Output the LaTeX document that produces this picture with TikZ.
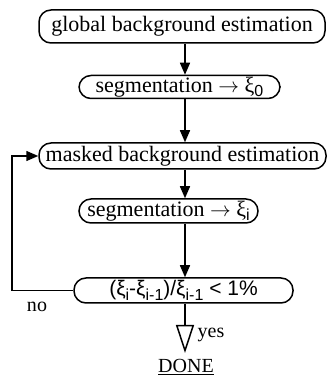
\documentclass[tikz,border=0pt]{standalone}
\usepackage{fontspec}
\setmainfont{Liberation Serif}
\newfontfamily\sansf{Liberation Sans}
\usetikzlibrary{arrows.meta}
\newcommand{\lowsub}[1]{\raisebox{-0.45ex}{\fontsize{16}{16}\selectfont #1}}
\newcommand{\sansub}[1]{\raisebox{-0.45ex}{\sansf\fontsize{16}{16}\selectfont #1}}
\tikzset{
  box/.style={draw, line width=1.5pt, rounded corners=12pt, inner sep=0pt, font=\fontsize{22}{24}\selectfont},
  flow/.style={line width=1.5pt, -{Triangle[length=12pt,width=10pt]}},
  lbl/.style={inner sep=0pt, font=\fontsize{20}{22}\selectfont}
}
\begin{document}
\begin{tikzpicture}[x=1pt,y=1pt]
\useasboundingbox (0,0) rectangle (327,385);
\coordinate (ax) at (185,0);
\coordinate (fb) at (12,0);
\node[box, minimum width=286pt, minimum height=33pt] (b1) at (182,358.5) {global background estimation};
\node[box, minimum width=201pt, minimum height=23pt] (b2) at (179.5,298) {segmentation $\rightarrow$ ξ\sansub{0}};
\node[box, minimum width=287pt, minimum height=26pt] (b3) at (182.5,229) {masked background estimation};
\node[box, minimum width=179pt, minimum height=24pt] (b4) at (168.5,174) {segmentation $\rightarrow$ ξ\sansub{i}};
\node[box, minimum width=219pt, minimum height=25pt] (b5) at (183.5,94.5) {\sansf\fontsize{21}{22}\selectfont (ξ\lowsub{i}-ξ\lowsub{i-1})/ξ\lowsub{i-1} < 1\%};
\node[lbl] (no) at (37,78) {no};
\node[lbl] (yes) at (211,50) {yes};
\node[lbl] (done) at (186,18) {\underline{DONE}};
\coordinate (tip) at (185,32);
\draw[flow] (b1.south -| ax) -- (b2.north -| ax);
\draw[flow] (b2.south -| ax) -- (b3.north -| ax);
\draw[flow] (b3.south -| ax) -- (b4.north -| ax);
\draw[flow] (b4.south -| ax) -- (b5.north -| ax);
\draw[flow] (b5.west) -| (fb |- b5.west) |- (b3.west);
\draw[line width=1.5pt, -{Triangle[open,length=28pt,width=18pt,line width=1.5pt]}] (b5.south -| ax) -- (tip);
\end{tikzpicture}
\end{document}
